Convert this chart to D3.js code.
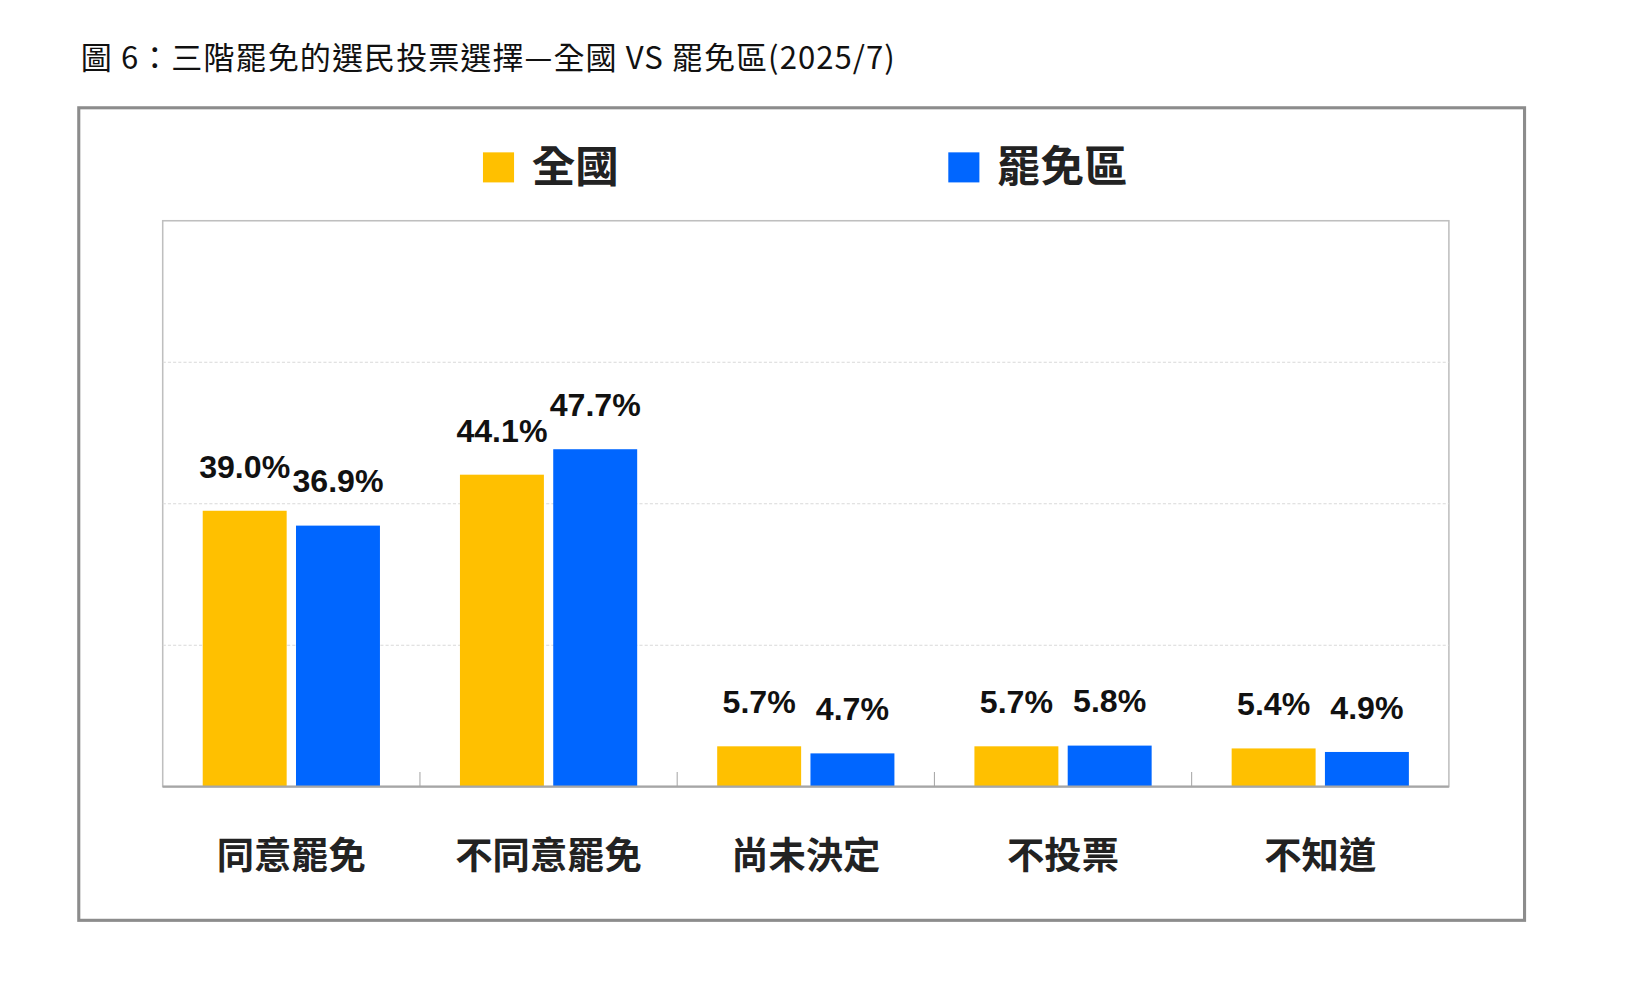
<!DOCTYPE html>
<html><head><meta charset="utf-8">
<script src="https://cdn.jsdelivr.net/npm/d3@7"></script>
<style>body{margin:0;background:#fff}</style>
</head><body><div id="c"></div>
<script>
// 類別與數值
const categories = ["同意罷免", "不同意罷免", "尚未決定", "不投票", "不知道"];
const national = [39.0, 44.1, 5.7, 5.7, 5.4];
const recall = [36.9, 47.7, 4.7, 5.8, 4.9];
const seriesNames = ["全國", "罷免區"];
const colors = ["#FFC000", "#0066FF"];
const gridTicks = [20, 40, 60];

const W = 1625, H = 1006;
const root = d3.select("#c").append("svg").attr("width", W).attr("height", H);
const svg = root.append("g").attr("transform", "scale(1.0364)");
const SANS = "'Noto Sans CJK TC', 'Noto Sans', sans-serif";

svg.append("text").attr("x", 78).attr("y", 67).attr("font-family", SANS)
  .attr("font-size", 30).attr("fill", "#111").attr("letter-spacing", 1)
  .text("圖 6：三階罷免的選民投票選擇—全國 VS 罷免區(2025/7)");

svg.append("rect").attr("x", 76).attr("y", 104).attr("width", 1395).attr("height", 784)
  .attr("fill", "none").attr("stroke", "#8c8c8c").attr("stroke-width", 3);

// 圖例
const legX = [466, 915];
seriesNames.forEach((s, i) => {
  svg.append("rect").attr("x", legX[i]).attr("y", 147).attr("width", 30).attr("height", 29).attr("fill", colors[i]);
  svg.append("text").attr("x", legX[i] + 47).attr("y", 176).attr("font-family", SANS)
    .attr("font-weight", "bold").attr("font-size", 42).attr("fill", "#222").text(s);
});

const L = 157, R = 1398, T = 213, B = 759;
const x = d3.scaleBand().domain(categories).range([L, R]);
const y = d3.scaleLinear().domain([0, 80]).range([B, T]);
const bw = 81, gap = 9;

svg.append("rect").attr("x", L).attr("y", T).attr("width", R - L).attr("height", B - T)
  .attr("fill", "none").attr("stroke", "#bfbfbf").attr("stroke-width", 1.5);
svg.selectAll(".grid").data(gridTicks).join("line")
  .attr("x1", L).attr("x2", R).attr("y1", d => y(d)).attr("y2", d => y(d))
  .attr("stroke", "#d9d9d9").attr("stroke-dasharray", "3 2");

[national, recall].forEach((vals, si) => {
  const off = si === 0 ? -gap / 2 - bw : gap / 2;
  const g = svg.append("g");
  g.selectAll("rect").data(vals).join("rect")
    .attr("x", (d, i) => x.bandwidth() / 2 + x(categories[i]) + off)
    .attr("y", d => y(d)).attr("width", bw).attr("height", d => B - y(d)).attr("fill", colors[si]);
  g.selectAll("text").data(vals).join("text")
    .attr("x", (d, i) => x.bandwidth() / 2 + x(categories[i]) + off + bw / 2)
    .attr("y", d => y(d) - 32).attr("text-anchor", "middle")
    .attr("font-family", "'Liberation Sans', Arial, sans-serif").attr("font-weight", "bold")
    .attr("font-size", 31).attr("fill", "#111").text(d => d.toFixed(1) + "%");
});

// x 軸
svg.append("line").attr("x1", L).attr("x2", R).attr("y1", B).attr("y2", B).attr("stroke", "#a6a6a6").attr("stroke-width", 2);
svg.selectAll(".tk").data(d3.range(1, categories.length)).join("line")
  .attr("x1", i => L + i * x.bandwidth()).attr("x2", i => L + i * x.bandwidth())
  .attr("y1", B - 14).attr("y2", B).attr("stroke", "#a6a6a6");
svg.selectAll(".cat").data(categories).join("text")
  .attr("x", d => x(d) + x.bandwidth() / 2).attr("y", 838).attr("text-anchor", "middle")
  .attr("font-family", SANS).attr("font-weight", "bold").attr("font-size", 36).attr("fill", "#222")
  .text(d => d);
</script></body></html>
